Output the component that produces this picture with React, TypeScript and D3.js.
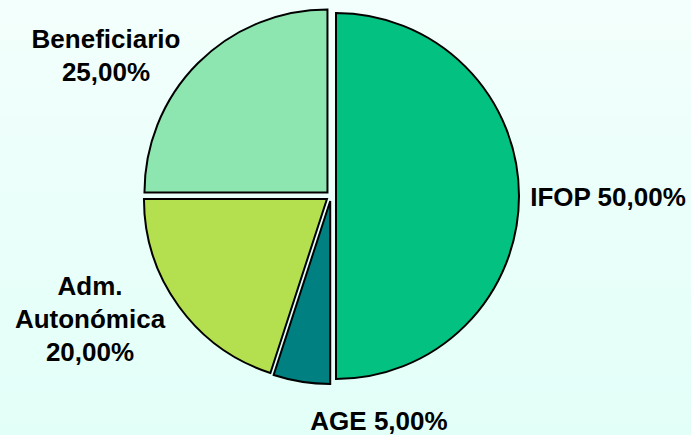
import React from 'react';
import * as d3 from 'd3';

// slice data, clockwise from 12 o'clock
const categories = ['IFOP', 'AGE', 'Adm. Autonómica', 'Beneficiario'];
const shares = [50, 5, 20, 25];
const labelLines = [['IFOP 50,00%'], ['AGE 5,00%'], ['Adm.', 'Autonómica', '20,00%'], ['Beneficiario', '25,00%']];
const colors = ['#03C181', '#008080', '#B4E050', '#8DE6AF'];

// label anchors (centre x, first baseline y)
const labelAnchors: [number, number][] = [
    [608, 206],
    [379, 430],
    [90, 295],
    [106, 48],
];

const W = 691;
const H = 435;
const cx = 331;
const cy = 196;
const radius = 183;
const explode = 5;

const App: React.FC = () => {
    const pie = d3
        .pie<number>()
        .sort(null)
        .value(d => d)
        .startAngle(0)
        .endAngle(2 * Math.PI);
    const arcs = pie(shares);
    const arc = d3.arc<d3.PieArcDatum<number>>().innerRadius(0).outerRadius(radius);

    return (
        <svg
            width={W}
            height={H}
            style={{ position: 'absolute', left: 0, top: 0 }}
            fontFamily="'Liberation Sans', Arial, sans-serif"
        >
            <defs>
                <linearGradient id="bg" x1="0" y1="0" x2="0" y2="1">
                    <stop offset="0%" stopColor="#F3FFFC" />
                    <stop offset="100%" stopColor="#E2FFF8" />
                </linearGradient>
            </defs>
            <rect width={W} height={H} fill="url(#bg)" />
            <g transform={`translate(${cx},${cy})`}>
                {arcs.map((a, i) => {
                    const mid = (a.startAngle + a.endAngle) / 2;
                    const dx = Math.sin(mid) * explode;
                    const dy = -Math.cos(mid) * explode;
                    return (
                        <path
                            key={categories[i]}
                            d={arc(a) as string}
                            transform={`translate(${dx},${dy})`}
                            fill={colors[i]}
                            stroke="#000"
                            strokeWidth={2}
                            strokeLinejoin="miter"
                        />
                    );
                })}
            </g>
            {labelLines.map((lines, i) => (
                <text
                    key={categories[i]}
                    x={labelAnchors[i][0]}
                    y={labelAnchors[i][1]}
                    textAnchor="middle"
                    fontSize={26}
                    fontWeight="bold"
                    fill="#000"
                >
                    {lines.map((l, j) => (
                        <tspan key={j} x={labelAnchors[i][0]} dy={j === 0 ? 0 : 33}>
                            {l}
                        </tspan>
                    ))}
                </text>
            ))}
        </svg>
    );
};

export default App;
